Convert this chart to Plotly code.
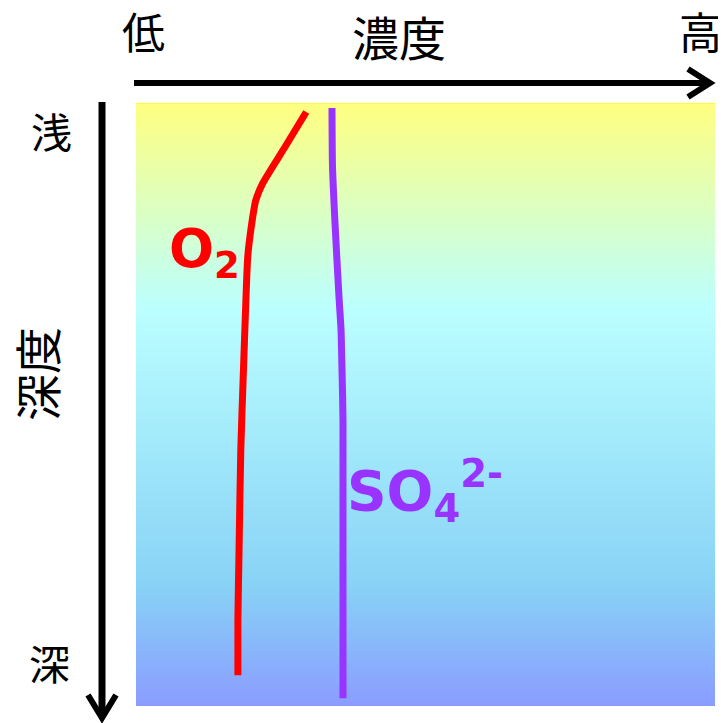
import plotly.graph_objects as go

# The page puts the figure 8px in from the top-left corner (body margin),
# so the figure is sized and positioned to compensate.
OFF = 8
W, H = 726 - OFF, 723 - OFF

# Concentration (0-100 across box) vs depth (0-100 down box)
o2_conc = [29.4, 25.6, 21.9, 20.7, 19.9, 19.3, 19.0, 18.5, 18.1, 17.8, 17.6, 17.6]
o2_depth = [1.5, 7.5, 13.3, 16.1, 20.6, 25.5, 32.2, 45.9, 57.5, 74.1, 85.7, 94.9]

so4_conc = [33.85, 33.94, 34.37, 35.06, 35.41, 35.58, 35.75, 35.75]
so4_depth = [0.83, 10.6, 19.9, 32.2, 37.6, 44.3, 52.6, 98.7]

# background gradient stops (depth, colour)
grad_depth = [0, 34, 80, 100]
grad_colors = ["#ffff80", "#bbffff", "#88d2f6", "#8a9cff"]

def px(x):
    return (x - OFF) / W

def py(y):
    return 1 - (y - OFF) / H

fig = go.Figure()

fig.add_trace(go.Heatmap(
    x=[0, 100], y=grad_depth,
    z=[[d, d] for d in grad_depth],
    colorscale=[[d / 100, c] for d, c in zip(grad_depth, grad_colors)],
    zmin=0, zmax=100, zsmooth="best", showscale=False, hoverinfo="skip",
))

fig.add_trace(go.Scatter(
    x=o2_conc, y=o2_depth, mode="lines",
    line=dict(color="#ff0000", width=7, shape="spline", smoothing=0.6),
    hoverinfo="skip", showlegend=False,
))
fig.add_trace(go.Scatter(
    x=so4_conc, y=so4_depth, mode="lines",
    line=dict(color="#9933ff", width=7, shape="spline", smoothing=0.6),
    hoverinfo="skip", showlegend=False,
))

shapes = []
# top thin border
shapes.append(dict(type="line", xref="x", yref="y", x0=0, x1=100, y0=0, y1=0,
                   line=dict(color="#ffff33", width=2)))
# horizontal arrow
shapes.append(dict(type="line", xref="paper", yref="paper",
                   x0=px(134), x1=px(708), y0=py(83), y1=py(83),
                   line=dict(color="black", width=6)))
shapes.append(dict(type="path", xref="paper", yref="paper",
                   path=f"M {px(688)},{py(69)} L {px(710)},{py(83)} L {px(688)},{py(97)}",
                   line=dict(color="black", width=6)))
# vertical arrow
shapes.append(dict(type="line", xref="paper", yref="paper",
                   x0=px(102), x1=px(102), y0=py(102), y1=py(716),
                   line=dict(color="black", width=7)))
shapes.append(dict(type="path", xref="paper", yref="paper",
                   path=f"M {px(88)},{py(695)} L {px(102)},{py(718)} L {px(116)},{py(695)}",
                   line=dict(color="black", width=6)))

cjk = "Noto Sans CJK JP"
ann = []
def label(text, x, y, size=40, angle=0, color="black", family=cjk):
    ann.append(dict(text=text, x=px(x), y=py(y), xref="paper", yref="paper",
                    showarrow=False, textangle=angle,
                    font=dict(family=family, size=size, color=color),
                    xanchor="center", yanchor="middle"))

label("低", 143, 30, size=43)
label("濃度", 399, 36, size=47)
label("高", 700, 30, size=43)
label("浅", 51, 130, size=41)
label("深度", 35, 374, size=47, angle=-90)
label("深", 49, 662, size=41)
label("<b>O<sub>2</sub></b>", 204, 252, size=53, color="#ff0000", family="DejaVu Sans")
label("<b>SO<sub>4</sub><sup>2-</sup></b>", 425, 491, size=55, color="#9933ff", family="DejaVu Sans")

fig.update_layout(
    width=W, height=H,
    margin=dict(l=0, r=0, t=0, b=0),
    paper_bgcolor="white", plot_bgcolor="white",
    xaxis=dict(domain=[(136 - OFF) / W, (715 - OFF) / W], range=[0, 100],
               visible=False, fixedrange=True),
    yaxis=dict(domain=[1 - (706 - OFF) / H, 1 - (103 - OFF) / H], range=[100, 0],
               visible=False, fixedrange=True),
    shapes=shapes, annotations=ann, showlegend=False,
)

fig.write_html("out.html")
